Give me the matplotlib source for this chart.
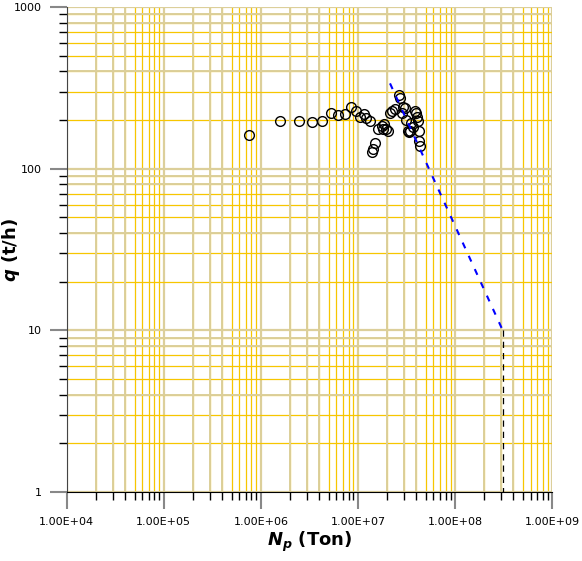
import numpy as np
import matplotlib.pyplot as plt
from matplotlib.ticker import LogLocator, FixedLocator, NullFormatter, FuncFormatter

plt.rcParams['mathtext.fontset'] = 'custom'
plt.rcParams['mathtext.it'] = 'DejaVu Sans:italic:bold'
plt.rcParams['mathtext.rm'] = 'DejaVu Sans:bold'

# cumulative production (Ton) and rate (t/h)
np_ton = [7.6e5, 1.59e6, 2.5e6, 3.4e6, 4.3e6, 5.3e6, 6.3e6, 7.4e6, 8.4e6, 9.5e6,
          1.05e7, 1.16e7, 1.21e7, 1.33e7, 1.5e7, 1.43e7, 1.39e7, 1.62e7, 1.76e7, 1.86e7,
          1.93e7, 2.06e7, 1.83e7, 2.14e7, 2.26e7, 2.39e7, 2.63e7, 2.71e7, 2.89e7, 3.08e7,
          2.85e7, 3.13e7, 3.26e7, 3.39e7, 3.5e7, 3.73e7, 3.87e7, 3.97e7, 4.03e7, 4.16e7,
          4.24e7, 4.27e7, 4.37e7, 3.45e7]
q_rate = [161, 197, 198, 195, 198, 220, 216, 219, 241, 228,
          210, 217, 207, 197, 144, 133, 127, 177, 184, 188,
          177, 172, 175, 220, 226, 233, 287, 274, 241, 237,
          222, 200, 172, 169, 191, 182, 229, 222, 210, 198,
          172, 148, 138, 170]

# decline trend line and cut-off
trend_np = [2.14e7, 3.1e8]
trend_q = [337, 10]
cutoff_np = [3.1e8, 3.1e8]
cutoff_q = [10, 1]

fig = plt.figure(figsize=(5.82, 5.61), dpi=100)
ax = fig.add_axes([0.1146, 0.123, 0.834, 0.8645])

ax.set_xscale('log')
ax.set_yscale('log')
ax.set_xlim(1e4, 1e9)
ax.set_ylim(1, 1000)

# grid: gold minor lines, some tan ones like the original
ax.set_axisbelow(True)
ax.grid(True, which='minor', color='#f7c600', linewidth=0.9)
ax.grid(True, which='major', color='#dccf9a', linewidth=1.6)
for dec in range(4, 9):
    for s in [2, 3, 4]:
        ax.axvline(s * 10.0 ** dec, color='#dccf9a', linewidth=1.4, zorder=0.6)
for dec in range(0, 3):
    for s in [4, 8, 9]:
        ax.axhline(s * 10.0 ** dec, color='#dccf9a', linewidth=1.4, zorder=0.6)

ax.plot(np_ton, q_rate, linestyle='none', marker='o', markersize=7,
        markerfacecolor='none', markeredgecolor='black', markeredgewidth=1.0, zorder=3)
ax.plot(trend_np, trend_q, color='blue', linewidth=1.5, dashes=(3, 4), zorder=4)
ax.plot(cutoff_np, cutoff_q, color='black', linewidth=0.9, dashes=(5, 4), zorder=4)

# ticks
ax.xaxis.set_major_locator(LogLocator(base=10, numticks=10))
ax.xaxis.set_minor_locator(LogLocator(base=10, subs=np.arange(2, 10), numticks=20))
ax.yaxis.set_major_locator(FixedLocator([1, 10, 100, 1000]))
ax.yaxis.set_minor_locator(LogLocator(base=10, subs=np.arange(2, 10), numticks=20))
ax.xaxis.set_minor_formatter(NullFormatter())
ax.yaxis.set_minor_formatter(NullFormatter())
ax.xaxis.set_major_formatter(FuncFormatter(lambda v, p: '%.2E' % v))
ax.yaxis.set_major_formatter(FuncFormatter(lambda v, p: '%g' % v))

ax.tick_params(which='major', length=12, width=1.5, color='#888888', labelsize=8, pad=6)
ax.tick_params(which='minor', length=6, width=1.0, color='black')

for side in ['top', 'right']:
    ax.spines[side].set_visible(False)
ax.spines['left'].set_color('#444444')
ax.spines['bottom'].set_color('black')

ax.set_xlabel(r'$N_p$ (Ton)', fontsize=13, fontweight='bold', labelpad=2)
ax.set_ylabel(r'$q$ (t/h)', fontsize=13, fontweight='bold')
ax.yaxis.set_label_coords(-0.092, 0.5)

fig.savefig('out.png', dpi=100)
